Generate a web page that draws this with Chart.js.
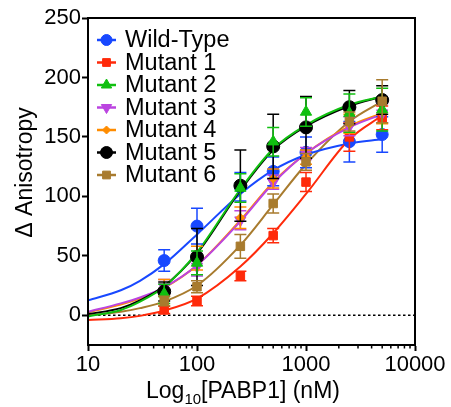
<!DOCTYPE html>
<html><head><meta charset="utf-8">
<script src="https://cdn.jsdelivr.net/npm/chart.js@4/dist/chart.umd.min.js"></script>
<style>html,body{margin:0;padding:0;background:#fff}#wrap{width:451px;height:407px}</style>
</head><body><div id="wrap"><canvas id="c" width="451" height="407"></canvas></div>
<script>
const FONT = "'Liberation Sans', Arial, sans-serif";
// concentrations (nM)
const concentrations = [50, 100, 250, 500, 1000, 2500, 5000];
const seriesNames = ['Wild-Type','Mutant 1','Mutant 2','Mutant 3','Mutant 4','Mutant 5','Mutant 6'];
// measured means
const wildType = [46, 75, 108, 121, 137, 146, 152];
const mutant1  = [4.5, 12, 33, 67, 112, 150, 166];
const mutant2  = [18, 44, 107, 146, 171, 170, 173];
const mutant3  = [24, 41, 80, 112, 136, 159, 170];
const mutant4  = [23, 48, 82, 115, 133, 161, 171];
const mutant5  = [20, 49, 109, 142, 158, 175, 181];
const mutant6  = [12, 24, 58, 94, 129, 163, 180];
// error (±)
const wildTypeErr = [9, 15, 12, 12, 13, 17, 15];
const mutant1Err  = [3, 4, 4, 6, 8, 12, 10];
const mutant2Err  = [8, 10, 12, 12, 12, 16, 18];
const mutant3Err  = [6, 8, 8, 6, 5, 8, 8];
const mutant4Err  = [7, 10, 9, 8, 6, 8, 10];
const mutant5Err  = [8, 24, 30, 27, 26, 14, 12];
const mutant6Err  = [4, 5, 10, 8, 7, 8, 18];
// fitted curves
const fitX = [10, 20, 30, 50, 100, 250, 500, 1000, 2500, 5000];
const wildTypeFit = [12.5, 21, 29, 43, 68, 102, 122, 135, 144.5, 148];
const mutant1Fit  = [-4, -2.5, -0.5, 4, 14, 41, 69, 102, 148, 168];
const mutant2Fit  = [-1, 4.5, 11.5, 24, 53, 106, 140, 160, 177, 184];
const mutant3Fit  = [3, 10, 15, 23.5, 42, 79, 111, 136, 158, 169];
const mutant4Fit  = [2.5, 9, 14, 23, 42, 80, 112, 136, 159, 170];
const mutant5Fit  = [1, 6, 12.5, 24.5, 52, 105, 139, 159, 176, 184];
const mutant6Fit  = [0, 3, 6, 11.5, 25, 59, 93, 127, 163, 180];
// axes
const yTicks = [0, 50, 100, 150, 200, 250];
const xMajor = [10, 100, 1000, 10000];
const xTickLabels = ['10', '100', '1000', '10000'];
const xMinor = [];
for (const d of [10, 100, 1000]) for (let k = 2; k <= 9; k++) xMinor.push(d * k);

const colors = ['#1848ff', '#ff2a0a', '#10c010', '#bb44e0', '#ff8c00', '#000000', '#a87b2e'];
const styles = ['circle', 'rect', 'triangle', 'triangle', 'rectRot', 'circle', 'rect'];
const rotations = [0, 0, 0, 180, 0, 0, 0];
const radii = [6, 6, 6.5, 6.5, 4.5, 6.5, 6];
const means = [wildType, mutant1, mutant2, mutant3, mutant4, mutant5, mutant6];
const errs = [wildTypeErr, mutant1Err, mutant2Err, mutant3Err, mutant4Err, mutant5Err, mutant6Err];
const fits = [wildTypeFit, mutant1Fit, mutant2Fit, mutant3Fit, mutant4Fit, mutant5Fit, mutant6Fit];

const datasets = [];
datasets.push({
  label: 'zero', data: [{x: 10, y: 0}, {x: 10000, y: 0}], borderColor: '#000', borderWidth: 1.5,
  borderDash: [2.5, 2.5], pointRadius: 0, order: 30
});
const fitOrder = [15, 14, 11, 16, 17, 12, 18];
for (let s = 0; s < 7; s++) {
  datasets.push({
    label: seriesNames[s] + ' fit', data: fitX.map((x, i) => ({x, y: fits[s][i]})),
    borderColor: colors[s], borderWidth: 2, pointRadius: 0, cubicInterpolationMode: 'monotone',
    fill: false, order: fitOrder[s]
  });
}
const pointOrder = [7, 6, 1.5, 5, 4, 2, 1];
for (let s = 0; s < 7; s++) {
  datasets.push({
    label: seriesNames[s], data: concentrations.map((x, i) => ({x, y: means[s][i]})),
    showLine: false, pointStyle: styles[s], rotation: rotations[s], pointRadius: radii[s],
    backgroundColor: colors[s], borderColor: colors[s], borderWidth: 1, order: pointOrder[s],
    errors: errs[s]
  });
}

const errorBars = {
  id: 'errorBars',
  beforeDatasetDraw(chart, args) {
    const ds = chart.data.datasets[args.index];
    if (!ds.errors) return;
    const xs = chart.scales.x, ys = chart.scales.y, ctx = chart.ctx;
    ctx.save();
    ctx.strokeStyle = ds.borderColor; ctx.lineWidth = 1.5;
    ds.data.forEach((p, i) => {
      const px = xs.getPixelForValue(p.x);
      const top = ys.getPixelForValue(p.y + ds.errors[i]);
      const bot = ys.getPixelForValue(p.y - ds.errors[i]);
      ctx.beginPath();
      ctx.moveTo(px, top); ctx.lineTo(px, bot);
      ctx.moveTo(px - 6, top); ctx.lineTo(px + 6, top);
      ctx.moveTo(px - 6, bot); ctx.lineTo(px + 6, bot);
      ctx.stroke();
    });
    ctx.restore();
  }
};

const decor = {
  id: 'decor',
  afterDraw(chart) {
    const ctx = chart.ctx, a = chart.chartArea, xs = chart.scales.x;
    ctx.save();
    ctx.strokeStyle = '#000'; ctx.lineWidth = 2;
    ctx.strokeRect(a.left, a.top, a.right - a.left, a.bottom - a.top);
    // minor x ticks
    ctx.lineWidth = 1.5;
    ctx.beginPath();
    xMinor.forEach(v => { const px = xs.getPixelForValue(v); ctx.moveTo(px, a.bottom); ctx.lineTo(px, a.bottom + 3.5); });
    ctx.stroke();
    // axis titles
    ctx.fillStyle = '#000';
    ctx.textBaseline = 'alphabetic';
    ctx.save();
    ctx.translate(32, 172.5); ctx.rotate(-Math.PI / 2);
    ctx.textAlign = 'center';
    ctx.font = '23px ' + FONT;
    ctx.fillText('\u0394 Anisotropy', 0, 0);
    ctx.restore();
    // x title with subscript
    ctx.textAlign = 'left';
    const parts = [['Log', 23, 0], ['10', 15, 6], ['[PABP1] (nM)', 23, 0]];
    let w = 0;
    parts.forEach(p => { ctx.font = p[1] + 'px ' + FONT; w += ctx.measureText(p[0]).width; });
    let x = 243 - w / 2;
    parts.forEach(p => { ctx.font = p[1] + 'px ' + FONT; ctx.fillText(p[0], x, 398 + p[2]); x += ctx.measureText(p[0]).width; });
    // legend
    ctx.font = '23.5px ' + FONT;
    ctx.textBaseline = 'middle';
    for (let s = 0; s < 7; s++) {
      const cy = 40 + s * 22.5;
      ctx.strokeStyle = colors[s]; ctx.lineWidth = 2.5;
      ctx.beginPath(); ctx.moveTo(97, cy); ctx.lineTo(116, cy); ctx.stroke();
      ctx.fillStyle = colors[s]; ctx.strokeStyle = colors[s]; ctx.lineWidth = 1;
      Chart.helpers.drawPoint(ctx, {pointStyle: styles[s], rotation: rotations[s], radius: radii[s] - 0.5, borderWidth: 1}, 106.5, cy);
      ctx.fillStyle = '#000';
      ctx.fillText(seriesNames[s], 125, cy + 1);
    }
    ctx.restore();
  }
};

new Chart(document.getElementById('c'), {
  type: 'line',
  data: {datasets},
  plugins: [errorBars, decor],
  options: {
    responsive: false, animation: false, devicePixelRatio: 1,
    layout: {padding: {left: 0, top: 18, right: 36, bottom: 0}},
    plugins: {legend: {display: false}, tooltip: {enabled: false}},
    scales: {
      x: {
        type: 'logarithmic', min: 10, max: 10000, position: 'bottom',
        afterBuildTicks: sc => { sc.ticks = xMajor.map(v => ({value: v, major: true})); },
        afterFit: sc => { sc.height = 62; },
        ticks: {autoSkip: false, maxRotation: 0, color: '#000', font: {family: FONT, size: 22}, padding: 1,
          callback: v => { const i = xMajor.indexOf(v); return i >= 0 ? xTickLabels[i] : ''; }},
        grid: {drawOnChartArea: false, drawTicks: true, tickLength: 6, tickWidth: 2, tickColor: '#000', color: '#000'},
        border: {display: true, color: '#000', width: 2}
      },
      y: {
        type: 'linear', min: -25, max: 250,
        afterBuildTicks: sc => { sc.ticks = yTicks.map(v => ({value: v})); },
        afterFit: sc => { sc.width = 88; },
        ticks: {color: '#000', font: {family: FONT, size: 22}, padding: 1},
        grid: {drawOnChartArea: false, drawTicks: true, tickLength: 6, tickWidth: 2, tickColor: '#000', color: '#000'},
        border: {display: true, color: '#000', width: 2}
      }
    }
  }
});
</script></body></html>
